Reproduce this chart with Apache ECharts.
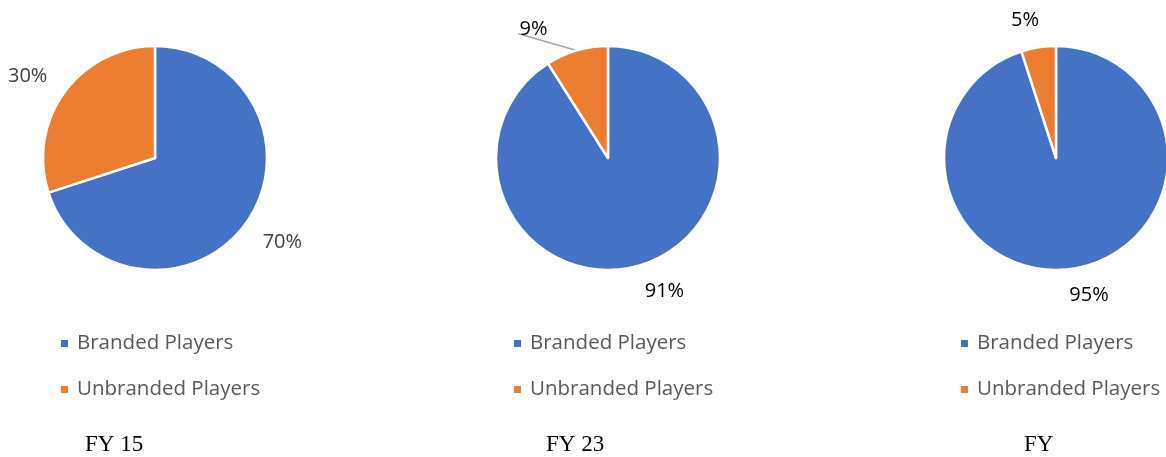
<!DOCTYPE html>
<html>
<head>
<meta charset="utf-8">
<script src="https://cdn.jsdelivr.net/npm/echarts@6/dist/echarts.min.js"></script>
<style>
  html, body { margin: 0; padding: 0; background: #fff; }
  #main { width: 1166px; height: 457px; }
</style>
</head>
<body>
<div id="main"></div>
<script>
const categories = ['Branded Players', 'Unbranded Players']
const periods = ['FY 15', 'FY 23', 'FY']
const fy15 = [70, 30]
const fy23 = [91, 9]
const fyLast = [95, 5]

const colors = ['#4472C4', '#ED7D31']
const centersX = [155, 608, 1056]
// label nudges (Excel "best fit" placement), per pie then per slice
const nudges = [
  [[6, -4], [-6, 6]],
  [[16, -6], [-34, 11]],
  [[11, -2], [-9, 2]]
]
const lineLen = [38, 33, 29]
const labelColor = ['#404040', '#000', '#000']

const myChart = echarts.init(document.getElementById('main'))

function makeSeries(values, i) {
  return {
    name: periods[i],
    type: 'pie',
    center: [centersX[i], 158],
    radius: 112,
    startAngle: 90,
    clockwise: true,
    avoidLabelOverlap: false,
    itemStyle: { borderColor: '#fff', borderWidth: 2.5 },
    emphasis: { scale: false },
    label: {
      position: 'outside',
      formatter: '{c}%',
      fontSize: 20,
      fontFamily: 'Open Sans',
      color: labelColor[i],
      distanceToLabelLine: 0
    },
    labelLine: { show: false, length: lineLen[i], length2: 0 },
    labelLayout: function (params) {
      const n = nudges[i][params.dataIndex]
      const res = { align: 'center', verticalAlign: 'middle', dx: n[0], dy: n[1] }
      // leader line of the small FY 23 slice: from slice edge to under the text
      if (i === 1 && params.dataIndex === 1 && params.labelLinePoints) {
        const p0 = params.labelLinePoints[0]
        const p1 = params.labelLinePoints[params.labelLinePoints.length - 1]
        const w = params.labelRect.width
        const end = [p1[0] + n[0] - w / 2 - 1, p1[1] + n[1] + 4]
        res.labelLinePoints = [p0, p0, end]
      }
      return res
    },
    data: values.map((v, k) => {
      const item = { name: categories[k], value: v, itemStyle: { color: colors[k] } }
      // only the FY 23 small slice has a leader line
      if (i === 1 && k === 1) {
        item.labelLine = { show: true, lineStyle: { color: '#a6a6a6', width: 1.5 } }
      }
      return item
    })
  }
}

const legendLeft = [59, 512, 959]

const option = {
  animation: false,
  color: colors,
  title: periods.map((p, i) => ({
    text: p,
    left: [85, 546, 1024][i],
    top: 433,
    padding: 0,
    textStyle: {
      fontFamily: 'Liberation Serif',
      fontWeight: 'normal',
      fontSize: 23,
      color: '#000'
    }
  })),
  legend: legendLeft.map((x) => ({
    orient: 'vertical',
    left: x,
    top: 333,
    padding: 0,
    itemGap: 25,
    itemWidth: 9,
    itemHeight: 9,
    icon: 'rect',
    selectedMode: false,
    data: categories,
    textStyle: {
      fontFamily: 'Open Sans',
      fontSize: 20.5,
      color: '#595959',
      padding: [0, 0, 0, 3]
    }
  })),
  series: [fy15, fy23, fyLast].map(makeSeries)
}

myChart.setOption(option)
</script>
</body>
</html>
